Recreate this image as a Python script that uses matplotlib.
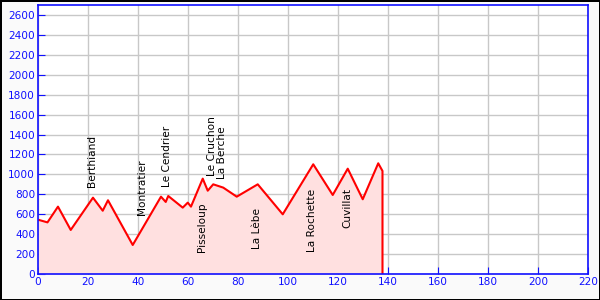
import matplotlib
matplotlib.use("Agg")
import matplotlib.pyplot as plt

# profilo altimetrico: km e quota
km = [0, 3.8, 8.0, 13.1, 22.0, 25.9, 28.0, 37.9, 49.2, 51.1, 52.1, 57.9, 59.9, 61.2,
      65.9, 67.9, 70.1, 74.1, 79.5, 87.9, 97.9, 110.1, 117.9, 123.9, 129.9, 136.1, 137.8, 137.8]
quota = [545, 518, 676, 442, 766, 635, 740, 291, 776, 723, 783, 666, 716, 676,
         957, 836, 900, 867, 776, 900, 599, 1101, 793, 1057, 750, 1111, 1034, 0]

# località: nome, km, quota della base del testo
nomi = ["Berthiand", "Montratier", "Le Cendrier", "Pisseloup", "Le Cruchon",
        "La Berche", "La Lèbe", "La Rochette", "Cuvillat"]
km_nomi = [21.6, 41.5, 51.6, 65.5, 69.8, 73.6, 87.5, 109.6, 123.6]
quota_nomi = [873, 592, 873, 221, 984, 954, 251, 221, 462]

blu = "#1010ff"

fig = plt.figure(figsize=(6, 3), dpi=100, facecolor="#fafafa", edgecolor="black", linewidth=2)
ax = fig.add_axes([0.0633, 0.0867, 0.9167, 0.8967])

ax.fill_between(km, quota, 0, color="#ffe0e0", linewidth=0)
ax.plot(km, quota, color="red", linewidth=1.5)

for n, x, y in zip(nomi, km_nomi, quota_nomi):
    ax.text(x, y, n, rotation=90, ha="center", va="bottom", fontsize=7.6, color="black")

ax.set_xlim(0, 220)
ax.set_ylim(0, 2700)
ax.set_xticks(range(0, 221, 20))
ax.set_yticks(range(0, 2601, 200))
ax.grid(True, color="#c8c8c8", linewidth=1)
ax.set_axisbelow(True)
ax.tick_params(direction="in", length=5, color=blu, labelcolor=blu, labelsize=7.6, pad=2)
for s in ax.spines.values():
    s.set_color(blu)
    s.set_linewidth(1.2)

fig.savefig("out.png", dpi=100)
